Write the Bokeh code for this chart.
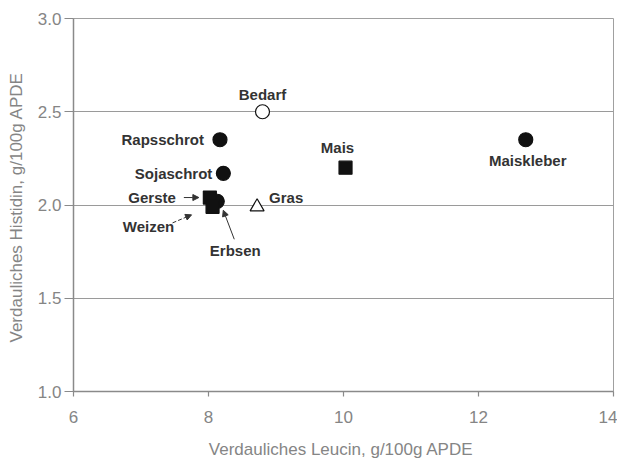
from bokeh.plotting import figure
from bokeh.models import (Range1d, FixedTicker, Arrow, NormalHead, ColumnDataSource,
                          CustomJSTickFormatter)
from bokeh.core.properties import value
from bokeh.embed import file_html
from bokeh.resources import INLINE

# Feed components: digestible leucin vs. digestible histidin (g/100g APDE)
names = ["Bedarf", "Rapsschrot", "Sojaschrot", "Gerste", "Weizen", "Erbsen", "Gras", "Mais", "Maiskleber"]
leucin = [8.8, 8.17, 8.22, 8.02, 8.06, 8.13, 8.72, 10.03, 12.7]
histidin = [2.5, 2.35, 2.17, 2.04, 1.99, 2.02, 1.99, 2.2, 2.35]
markers = ["circle", "circle", "circle", "square", "square", "circle", "triangle", "square", "circle"]
filled = [False, True, True, True, True, True, False, True, True]

x_ticks = [6, 8, 10, 12, 14]
y_ticks = [1.0, 1.5, 2.0, 2.5, 3.0]

W, H = 617, 461
LEFT, RIGHT, TOP, BOTTOM = 73, 4, 18, 70
X0, X1, Y0, Y1 = 6, 14, 1.0, 3.0
px_x = (W - LEFT - RIGHT) / (X1 - X0)
px_y = (H - TOP - BOTTOM) / (Y1 - Y0)

FONT = "Liberation Sans"
GREY = "#858585"

p = figure(width=W, height=H, output_backend="svg", toolbar_location=None,
           x_range=Range1d(X0, X1), y_range=Range1d(Y0, Y1),
           min_border_left=LEFT, min_border_right=RIGHT,
           min_border_top=TOP, min_border_bottom=BOTTOM)
p.background_fill_color = "white"
p.border_fill_color = "white"
p.outline_line_color = "#a0a0a0"

p.xgrid.visible = False
p.ygrid.grid_line_color = "#9a9a9a"
p.ygrid.grid_line_width = 1.2
p.ygrid.ticker = FixedTicker(ticks=y_ticks)

p.xaxis.ticker = FixedTicker(ticks=x_ticks)
p.yaxis.ticker = FixedTicker(ticks=y_ticks)
p.yaxis.formatter = CustomJSTickFormatter(code="return tick.toFixed(1);")

for ax in (p.xaxis, p.yaxis):
    ax.axis_line_color = "#8a8a8a"
    ax.axis_line_width = 1.5
    ax.major_tick_line_color = "#8a8a8a"
    ax.major_tick_line_width = 1.2
    ax.minor_tick_line_color = None
    ax.major_tick_in = 0
    ax.major_label_text_font = FONT
    ax.major_label_text_font_size = "17px"
    ax.major_label_text_color = GREY
    ax.axis_label_text_font = FONT
    ax.axis_label_text_font_size = "17px"
    ax.axis_label_text_font_style = "normal"
    ax.axis_label_text_color = GREY

p.xaxis.major_tick_out = 5
p.yaxis.major_tick_out = 9
p.xaxis.major_label_standoff = 14
p.yaxis.major_label_standoff = 3
p.xaxis.axis_label = "Verdauliches Leucin, g/100g  APDE"
p.yaxis.axis_label = "Verdauliches Histidin, g/100g  APDE"
p.xaxis.axis_label_standoff = 14
p.yaxis.axis_label_standoff = 9

# points
for m in set(markers):
    idx = [i for i, mk in enumerate(markers) if mk == m]
    src = ColumnDataSource(dict(
        x=[leucin[i] for i in idx],
        y=[histidin[i] for i in idx],
        fill=["#111111" if filled[i] else "white" for i in idx],
    ))
    size = 14 if m != "square" else 13
    p.scatter("x", "y", source=src, marker=m, size=size,
              fill_color="fill", line_color="#111111", line_width=1.2)

# labels: pixel offsets relative to each point
lab_dx = [0, -16, -11, -34, -64, 18, 12, -8, 2]
lab_dy = [-17, 0, 0, 0, 20, 49, -9, -20, 21]
lab_align = ["center", "right", "right", "right", "center", "center", "left", "center", "center"]
for i, n in enumerate(names):
    p.text(x=[leucin[i]], y=[histidin[i]], text=[n],
           x_offset=lab_dx[i], y_offset=lab_dy[i],
           text_align=lab_align[i], text_baseline="middle",
           text_font=value(FONT), text_font_size="15px",
           text_font_style="bold", text_color="#333333")

# leader arrows (pixel offsets from the point they refer to)
arrows = [
    # (index, start_dx, start_dy, end_dx, end_dy, dash)
    (3, -26, 0, -11, 0, "solid"),
    (4, -40, -16, -21, -8, "4 2"),
    (5, 17, -38, 6, -9, "solid"),
]
for i, sx, sy, ex, ey, dash in arrows:
    p.add_layout(Arrow(
        x_start=leucin[i] + sx / px_x, y_start=histidin[i] + sy / px_y,
        x_end=leucin[i] + ex / px_x, y_end=histidin[i] + ey / px_y,
        line_color="#333333", line_width=1, line_dash=dash,
        end=NormalHead(size=6, fill_color="#333333", line_color="#333333")))

open("out.html", "w").write(file_html(p, INLINE))
